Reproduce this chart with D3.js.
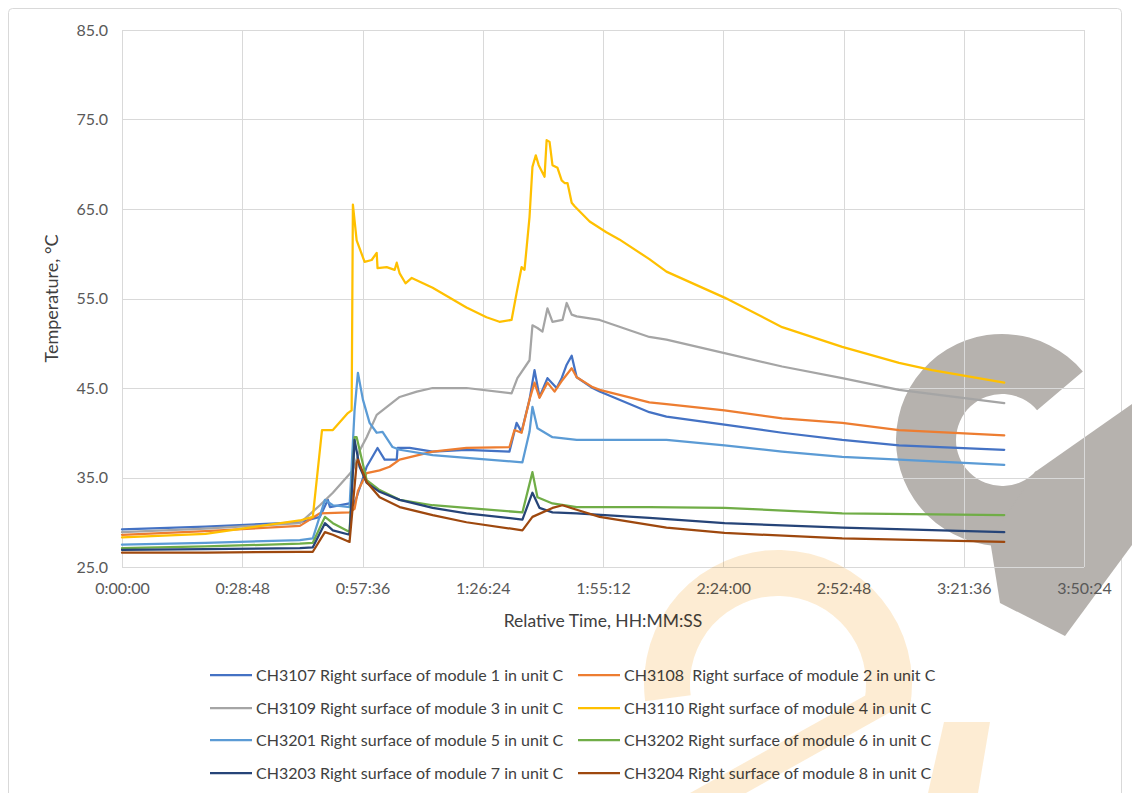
<!DOCTYPE html>
<html>
<head>
<meta charset="utf-8">
<script src="https://cdn.jsdelivr.net/npm/d3@7"></script>
<style>
  html, body { margin: 0; padding: 0; background: #fff; }
  svg { display: block; font-family: Lato, "Open Sans", sans-serif; }
</style>
</head>
<body>
<svg id="chart" width="1132" height="793"></svg>
<script>
// ---- DATA (time in minutes, temperature in °C) ----
const seriesNames = [
  "CH3107 Right surface of module 1 in unit C",
  "CH3108  Right surface of module 2 in unit C",
  "CH3109 Right surface of module 3 in unit C",
  "CH3110 Right surface of module 4 in unit C",
  "CH3201 Right surface of module 5 in unit C",
  "CH3202 Right surface of module 6 in unit C",
  "CH3203 Right surface of module 7 in unit C",
  "CH3204 Right surface of module 8 in unit C"
];
const seriesColors = ["#4472C4", "#ED7D31", "#A5A5A5", "#FFC000", "#5B9BD5", "#70AD47", "#264478", "#9E480E"];

const ch3107 = [[0,29.2],[20,29.5],[42.6,30.0],[47.4,30.6],[49.3,32.5],[49.8,31.7],[54.5,32.1],[55.5,32.0],[56.2,32.8],[58.6,36.2],[61.2,38.3],[62.9,37.0],[65.8,37.0],[66.0,38.3],[68.9,38.3],[74.4,37.9],[82.5,38.1],[92.8,37.9],[94.5,41.1],[95.7,40.1],[97.6,43.7],[98.8,47.0],[100.0,44.0],[101.9,46.1],[104.1,45.0],[105.3,46.1],[106.5,47.6],[107.7,48.6],[108.9,46.2],[112.7,45.0],[114.4,44.6],[126.3,42.3],[130.4,41.8],[144.3,40.9],[158.1,40.0],[172.5,39.2],[186.1,38.6],[211.3,38.1]];
const ch3108 = [[0,28.6],[20,29.0],[42.6,29.6],[47.4,31.0],[54.5,31.1],[55.7,31.5],[56.5,33.5],[58.6,35.5],[61.7,35.8],[64.1,36.2],[66.5,37.0],[74.4,37.9],[82.5,38.3],[92.8,38.4],[94.0,40.3],[95.7,40.0],[97.6,43.7],[98.8,45.6],[100.0,43.9],[101.9,45.6],[103.6,44.6],[105.5,45.9],[107.7,47.2],[108.9,46.2],[112.7,45.1],[114.4,44.8],[126.3,43.4],[130.4,43.2],[144.3,42.5],[158.1,41.6],[172.5,41.1],[186.1,40.3],[211.3,39.7]];
const ch3109 = [[0,28.9],[20,29.3],[42.6,29.9],[47.4,31.9],[50.5,33.3],[55.3,35.8],[56.9,38.0],[58.6,39.5],[61.0,42.0],[66.5,44.0],[70.6,44.6],[74.4,45.0],[82.5,45.0],[93.3,44.4],[94.7,46.1],[97.6,48.1],[98.3,52.0],[99.5,51.7],[100.7,51.3],[101.9,53.9],[103.1,52.4],[105.5,52.6],[106.5,54.5],[107.7,53.2],[108.9,53.0],[114.4,52.6],[126.3,50.7],[130.4,50.4],[144.3,48.9],[158.1,47.4],[172.5,46.1],[186.1,44.8],[211.3,43.3]];
const ch3110 = [[0,28.3],[20,28.7],[42.6,30.2],[45.7,30.6],[47.9,40.3],[50.5,40.3],[54.1,42.2],[55.0,42.5],[55.3,65.5],[56.2,61.5],[58.1,59.1],[59.8,59.3],[61.0,60.1],[61.2,58.4],[63.4,58.5],[65.3,58.2],[65.8,59.0],[66.5,57.8],[67.9,56.7],[69.4,57.3],[74.4,56.2],[82.5,54.0],[87.3,52.9],[90.4,52.4],[93.3,52.6],[94.5,55.6],[95.7,58.5],[96.4,58.2],[97.6,64.1],[98.3,69.7],[99.1,71.0],[99.8,69.9],[101.2,68.6],[101.7,72.7],[102.4,72.5],[103.1,69.9],[104.3,69.6],[105.3,68.2],[106.0,67.9],[106.7,67.9],[107.7,65.7],[108.4,65.3],[112.0,63.6],[116.0,62.4],[119.1,61.6],[126.3,59.4],[130.4,58.0],[144.3,55.1],[158.1,51.8],[172.5,49.6],[186.1,47.8],[194.0,47.0],[211.3,45.6]];
const ch3201 = [[0,27.5],[20,27.7],[42.6,28.0],[45.7,28.2],[48.6,32.5],[50.5,31.9],[54.5,31.7],[55.7,42.5],[56.5,46.7],[57.7,43.7],[59.3,41.1],[61.0,40.0],[62.4,40.1],[64.8,38.4],[66.5,38.1],[74.4,37.5],[82.5,37.2],[95.9,36.7],[97.6,40.1],[98.3,42.9],[99.5,40.5],[103.1,39.5],[108.9,39.2],[126.3,39.2],[130.4,39.2],[144.3,38.6],[158.1,37.9],[172.5,37.3],[186.1,37.0],[211.3,36.4]];
const ch3202 = [[0,27.1],[20,27.3],[42.6,27.6],[45.7,27.7],[48.6,30.6],[50.5,29.9],[54.5,28.9],[55.7,39.5],[56.2,39.5],[58.6,34.7],[61.7,33.6],[66.5,32.5],[74.4,31.9],[82.5,31.6],[95.9,31.1],[98.3,35.6],[99.5,32.8],[103.1,32.1],[108.9,31.7],[126.3,31.7],[144.3,31.6],[172.5,31.0],[211.3,30.8]];
const ch3203 = [[0,26.9],[20,27.0],[42.6,27.1],[45.7,27.2],[48.6,29.9],[50.5,29.1],[54.5,28.6],[55.7,39.2],[56.9,36.2],[58.6,34.4],[61.7,33.4],[66.5,32.5],[74.4,31.6],[82.5,31.0],[95.9,30.3],[98.3,33.3],[100.0,31.6],[103.1,31.1],[108.9,31.0],[126.3,30.5],[144.3,29.9],[172.5,29.4],[211.3,28.9]];
const ch3204 = [[0,26.6],[20,26.6],[42.6,26.7],[45.7,26.7],[48.6,28.9],[50.5,28.6],[54.5,27.8],[56.2,36.6],[56.5,37.0],[58.6,34.5],[61.7,32.8],[66.5,31.7],[74.4,30.8],[82.5,30.0],[95.9,29.1],[98.3,30.6],[103.1,31.6],[105.5,31.9],[108.9,31.4],[114.4,30.6],[126.3,29.7],[130.4,29.4],[144.3,28.8],[172.5,28.2],[211.3,27.8]];

const xTickMinutes = [0, 28.8, 57.6, 86.4, 115.2, 144, 172.8, 201.6, 230.4];
const yTickValues = [25, 35, 45, 55, 65, 75, 85];
const xTitle = "Relative Time, HH:MM:SS";
const yTitle = "Temperature, °C";

const allSeries = [ch3107, ch3108, ch3109, ch3110, ch3201, ch3202, ch3203, ch3204];

// ---- DRAWING ----
const svg = d3.select("#chart");
const plot = {left: 122, right: 1084, top: 30, bottom: 567};

// outer chart border
svg.append("rect").attr("x", 8.5).attr("y", 8.5).attr("width", 1113).attr("height", 800)
  .attr("rx", 4).attr("fill", "#fff").attr("stroke", "#d9d9d9").attr("stroke-width", 1);

const x = d3.scaleLinear().domain([0, 230.4]).range([plot.left, plot.right]);
const y = d3.scaleLinear().domain([25, 85]).range([plot.bottom, plot.top]);
const arcGen = d3.arc();

// gray watermark (behind the chart)
const wmGray = svg.append("g");
wmGray.append("path")
  .attr("transform", "translate(1002,440)")
  .attr("d", arcGen({innerRadius: 46, outerRadius: 106, startAngle: 2.3, endAngle: 7.15}))
  .attr("fill", "#B6B2AE");
wmGray.append("path")
  .attr("d", "M1035,472 L1132,404 L1132,545 L1065,636 L1000,603 L990,540 Z")
  .attr("fill", "#B6B2AE");

// grid
const g = svg.append("g");
g.append("g").selectAll("line").data(yTickValues).join("line")
  .attr("x1", plot.left).attr("x2", plot.right)
  .attr("y1", d => Math.round(y(d)) + 0.5).attr("y2", d => Math.round(y(d)) + 0.5)
  .attr("stroke", "#d9d9d9").attr("stroke-width", 1);
g.append("g").selectAll("line").data(xTickMinutes).join("line")
  .attr("y1", plot.top).attr("y2", plot.bottom)
  .attr("x1", d => Math.round(x(d)) + 0.5).attr("x2", d => Math.round(x(d)) + 0.5)
  .attr("stroke", "#d9d9d9").attr("stroke-width", 1);

// axes (labels)
function fmtTime(m) {
  const s = Math.round(m * 60);
  const h = Math.floor(s / 3600), mm = Math.floor((s % 3600) / 60), ss = s % 60;
  return h + ":" + String(mm).padStart(2, "0") + ":" + String(ss).padStart(2, "0");
}
const xAxis = d3.axisBottom(x).tickValues(xTickMinutes).tickFormat(fmtTime).tickSize(0).tickPadding(16);
const yAxis = d3.axisLeft(y).tickValues(yTickValues).tickFormat(d3.format(".1f")).tickSize(0).tickPadding(14);
const gx = svg.append("g").attr("transform", `translate(0,${plot.bottom})`).call(xAxis);
const gy = svg.append("g").attr("transform", `translate(${plot.left},0)`).call(yAxis);
[gx, gy].forEach(a => {
  a.select(".domain").remove();
  a.selectAll("text").attr("fill", "#595959").style("font-size", "16px").style("font-family", "Lato, sans-serif");
});
gx.selectAll("text").attr("dy", "0.71em");

// series lines
const line = d3.line().x(d => x(d[0])).y(d => y(d[1]));
svg.append("g").selectAll("path").data(allSeries).join("path")
  .attr("d", line)
  .attr("fill", "none")
  .attr("stroke", (d, i) => seriesColors[i])
  .attr("stroke-width", 2.25)
  .attr("stroke-linejoin", "round")
  .attr("stroke-linecap", "round");

// axis titles
svg.append("text").attr("x", (plot.left + plot.right) / 2).attr("y", 627)
  .attr("text-anchor", "middle").attr("fill", "#404040")
  .style("font-size", "17.5px").text(xTitle);
svg.append("text").attr("transform", `translate(58,${(plot.top + plot.bottom) / 2}) rotate(-90)`)
  .attr("text-anchor", "middle").attr("fill", "#404040")
  .style("font-size", "18px").text(yTitle);

// legend
const legendPos = [
  {lx: 210, tx: 256, y: 675}, {lx: 578, tx: 624, y: 675},
  {lx: 210, tx: 256, y: 708}, {lx: 578, tx: 624, y: 708},
  {lx: 210, tx: 256, y: 740}, {lx: 578, tx: 624, y: 740},
  {lx: 210, tx: 256, y: 773}, {lx: 578, tx: 624, y: 773}
];
const lg = svg.append("g").selectAll("g").data(seriesNames).join("g");
lg.append("line")
  .attr("x1", (d, i) => legendPos[i].lx).attr("x2", (d, i) => legendPos[i].lx + 42)
  .attr("y1", (d, i) => legendPos[i].y).attr("y2", (d, i) => legendPos[i].y)
  .attr("stroke", (d, i) => seriesColors[i]).attr("stroke-width", 2.25);
lg.append("text")
  .attr("x", (d, i) => legendPos[i].tx).attr("y", (d, i) => legendPos[i].y)
  .attr("dy", "0.35em").attr("fill", "#404040")
  .style("font-size", "16px").style("white-space", "pre")
  .attr("xml:space", "preserve")
  .text(d => d);

// orange watermark (on top, multiplied like a translucent stamp)
const wmOrange = svg.append("g").style("mix-blend-mode", "multiply").attr("opacity", 0.6);
wmOrange.append("path")
  .attr("transform", "translate(778,684)")
  .attr("d", arcGen({innerRadius: 88, outerRadius: 134, startAngle: -1.7, endAngle: 1.75}))
  .attr("fill", "#FCE0B6");
wmOrange.append("path")
  .attr("d", "M868,694 L912,700 L746,793 L690,793 Z")
  .attr("fill", "#FCE0B6");
wmOrange.append("path")
  .attr("d", "M928,793 L944,722 L990,722 L978,793 Z")
  .attr("fill", "#FCE0B6");
</script>
</body>
</html>
